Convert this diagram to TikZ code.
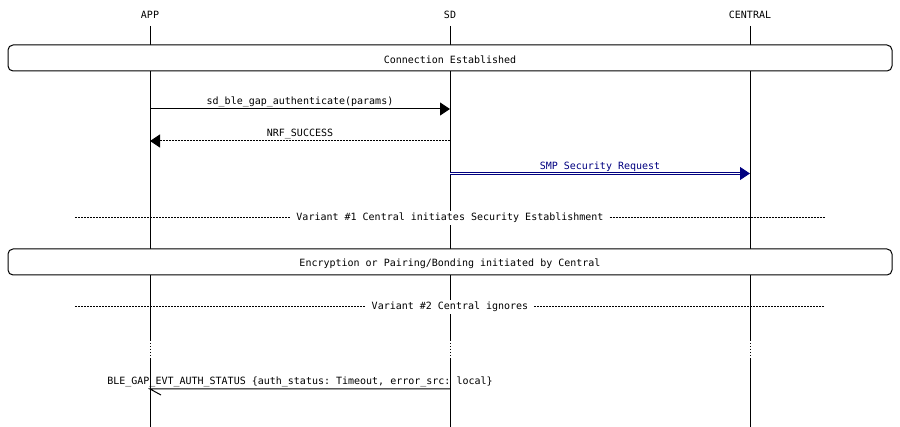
\documentclass[tikz,border=0pt]{standalone}
\usepackage{fontspec}
\setmonofont{DejaVu Sans Mono}
\usetikzlibrary{arrows.meta}
\definecolor{msgblue}{RGB}{0,0,128}
\tikzset{
  lbl/.style={font=\ttfamily\fontsize{10}{12}\selectfont, inner sep=0pt},
  life/.style={line width=1pt, black},
  boxst/.style={draw, line width=1pt, rounded corners=5pt},
  msg/.style={line width=1pt, -{Triangle[length=10pt,width=13pt]}},
  divider/.style={line width=0.8pt, dash pattern=on 2pt off 1pt},
}
\begin{document}
\begin{tikzpicture}[x=1pt,y=-1pt]
\useasboundingbox (0,0) rectangle (900,427);
% lifeline heads
\node[lbl] (app) at (150,15) {APP};
\node[lbl] (sd) at (450,15) {SD};
\node[lbl] (central) at (750,15) {CENTRAL};
% lifelines
\foreach \x in {150,450,750} {
  \draw[life] (\x,26) -- (\x,45);
  \draw[life] (\x,71) -- (\x,249);
  \draw[life] (\x,275) -- (\x,340);
  \draw[life, dash pattern=on 1pt off 2pt] (\x,340) -- (\x,358);
  \draw[life] (\x,358) -- (\x,427);
}
% box 1
\draw[boxst, fill=white] (8,45) rectangle (892,71);
\node[lbl] (box1) at (450,59.5) {Connection Established};
% message 1
\coordinate (m1s) at (150,109);
\coordinate (m1e) at (450,109);
\draw[msg] (m1s) -- (m1e);
\node[lbl, anchor=base] (l1) at (300,105) {sd\_ble\_gap\_authenticate(params)};
% message 2
\coordinate (m2s) at (450,141);
\coordinate (m2e) at (150,141);
\draw[msg, dash pattern=on 2pt off 1pt] (m2s) -- (m2e);
\node[lbl, anchor=base] (l2) at (300,137) {NRF\_SUCCESS};
% message 3
\coordinate (m3s) at (450,173.5);
\coordinate (m3e) at (750,173.5);
\draw[msgblue, line width=1pt, double=white, double distance=1.5pt, -{Triangle[length=10pt,width=13pt,fill=msgblue]}] (m3s) -- (m3e);
\node[lbl, anchor=base, text=msgblue] (l3) at (600,170) {SMP Security Request};
% divider 1
\node[lbl, fill=white, inner xsep=6pt, inner ysep=2pt] (d1) at (450,218) {Variant \#1 Central initiates Security Establishment};
\coordinate (d1l) at (75,217);
\coordinate (d1r) at (825,217);
\draw[divider] (d1l) -- (d1.west |- d1l);
\draw[divider] (d1.east |- d1r) -- (d1r);
% box 2
\draw[boxst, fill=white] (8,249) rectangle (892,275);
\node[lbl] (box2) at (450,263.5) {Encryption or Pairing/Bonding initiated by Central};
% divider 2
\node[lbl, fill=white, inner xsep=6pt, inner ysep=2pt] (d2) at (450,307) {Variant \#2 Central ignores};
\coordinate (d2l) at (75,306);
\coordinate (d2r) at (825,306);
\draw[divider] (d2l) -- (d2.west |- d2l);
\draw[divider] (d2.east |- d2r) -- (d2r);
% message 4
\coordinate (m4s) at (450,389);
\coordinate (m4e) at (150,389);
\coordinate (m4b) at (161,395);
\draw[line width=1pt] (m4s) -- (m4e) -- (m4b);
\node[lbl, anchor=base] (l4) at (300,385) {BLE\_GAP\_EVT\_AUTH\_STATUS \{auth\_status: Timeout, error\_src: local\}};
\end{tikzpicture}
\end{document}
